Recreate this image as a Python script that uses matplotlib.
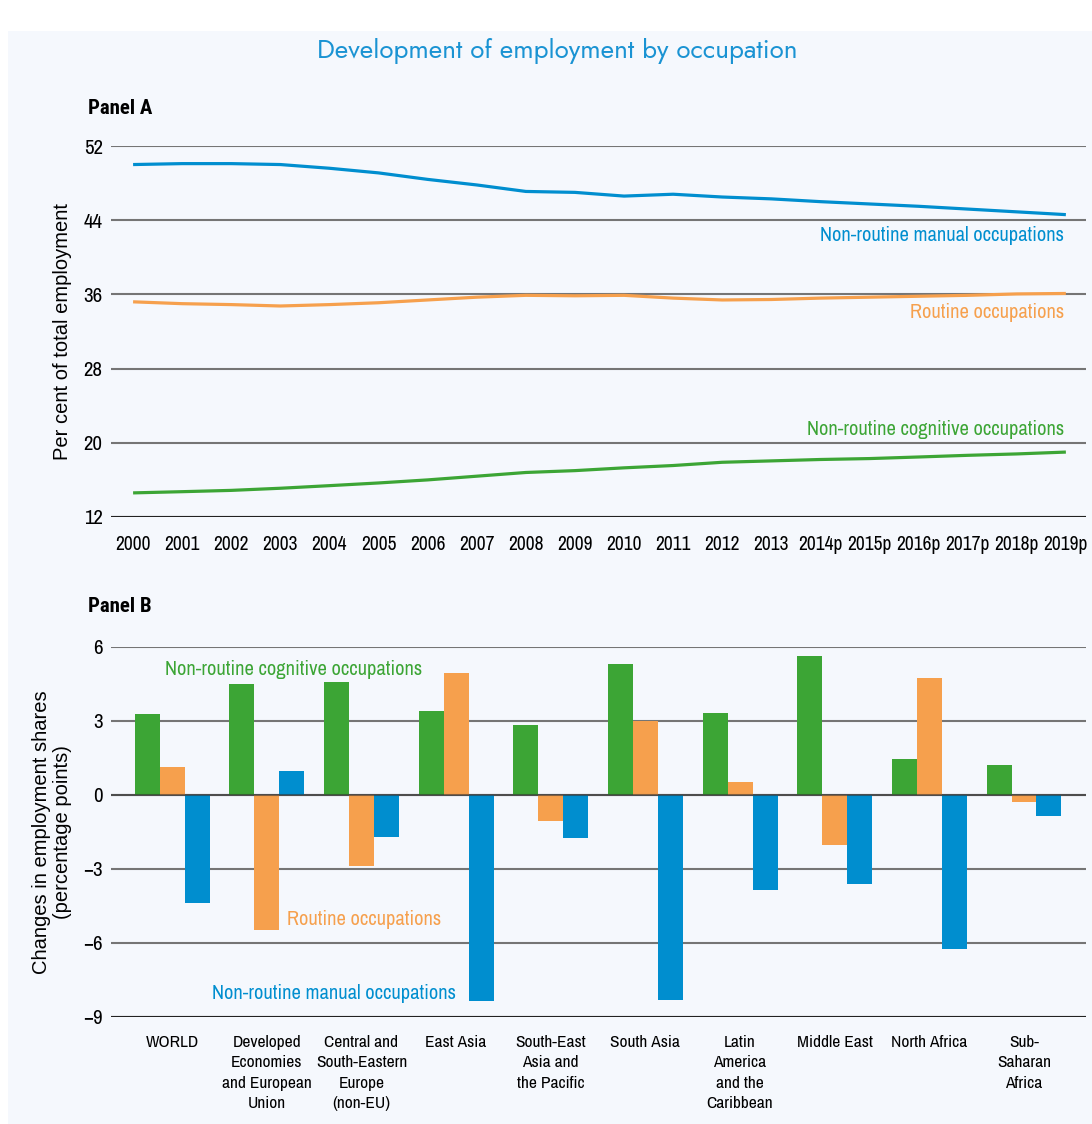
import matplotlib
matplotlib.use("Agg")
import matplotlib.pyplot as plt
import numpy as np
from matplotlib.patches import Rectangle

# ---------------- data ----------------
years = ["2000", "2001", "2002", "2003", "2004", "2005", "2006", "2007", "2008", "2009",
         "2010", "2011", "2012", "2013", "2014p", "2015p", "2016p", "2017p", "2018p", "2019p"]
manual_line = [50.0, 50.1, 50.1, 50.0, 49.6, 49.1, 48.4, 47.8, 47.1, 47.0,
               46.6, 46.8, 46.5, 46.3, 46.0, 45.75, 45.5, 45.2, 44.9, 44.6]
routine_line = [35.2, 35.0, 34.9, 34.75, 34.9, 35.1, 35.4, 35.7, 35.9, 35.85,
                35.9, 35.6, 35.4, 35.45, 35.6, 35.7, 35.8, 35.9, 36.05, 36.1]
cognitive_line = [14.6, 14.73, 14.87, 15.1, 15.38, 15.67, 16.0, 16.4, 16.8, 17.0,
                  17.3, 17.55, 17.9, 18.05, 18.2, 18.3, 18.47, 18.65, 18.8, 19.0]

regions = ["WORLD", "Developed\nEconomies\nand European\nUnion",
           "Central and\nSouth-Eastern\nEurope\n(non-EU)", "East Asia",
           "South-East\nAsia and\nthe Pacific", "South Asia",
           "Latin\nAmerica\nand the\nCaribbean", "Middle East", "North Africa",
           "Sub-\nSaharan\nAfrica"]
cognitive_chg = [3.28, 4.5, 4.58, 3.4, 2.84, 5.31, 3.32, 5.63, 1.46, 1.22]
routine_chg = [1.13, -5.46, -2.87, 4.94, -1.08, 3.0, 0.53, -2.05, 4.74, -0.31]
manual_chg = [-4.37, 0.97, -1.73, -8.34, -1.77, -8.3, -3.84, -3.6, -6.23, -0.88]

yticks_a = [12, 20, 28, 36, 44, 52]
yticks_b = [-9, -6, -3, 0, 3, 6]

# ---------------- style ----------------
GREEN = "#3ca535"
ORANGE = "#f6a04d"
BLUE = "#008ecf"
TITLE_BLUE = "#1a93d3"
BG = "#f5f8fd"
GRID = "#757575"
NARROW = ["Archivo Narrow", "DejaVu Sans"]
NARROW_BOLD = ["Roboto Condensed", "Asap Condensed", "DejaVu Sans"]
REG = ["Liberation Sans", "DejaVu Sans"]
TITLE_FONT = ["Jost", "DejaVu Sans"]

W, H = 1092, 1124
fig = plt.figure(figsize=(W / 100, H / 100), dpi=100)
fig.patch.set_facecolor("white")
fig.add_artist(Rectangle((8 / W, 0), 1 - 8 / W, 1 - 31 / H, transform=fig.transFigure,
                         facecolor=BG, edgecolor="none", zorder=0))

fig.text(557 / W, 1 - 51 / H, "Development of employment by occupation",
         ha="center", va="center", color=TITLE_BLUE, fontsize=18.8,
         family=TITLE_FONT, fontweight="light")
fig.text(88 / W, 1 - 108 / H, "Panel A", ha="left", va="center", fontsize=15,
         fontweight="bold", family=NARROW_BOLD)
fig.text(88 / W, 1 - 607 / H, "Panel B", ha="left", va="center", fontsize=15,
         fontweight="bold", family=NARROW_BOLD)

def style_axes(ax):
    ax.set_facecolor("none")
    for s in ax.spines.values():
        s.set_visible(False)
    ax.tick_params(axis="both", length=0)
    ax.yaxis.grid(True, color=GRID, linewidth=1.5)
    ax.set_axisbelow(True)

# ---------------- Panel A ----------------
L, R = 111 / W, 1086 / W
axA = fig.add_axes([L, 1 - 517 / H, R - L, 371 / H])
style_axes(axA)
x = np.arange(len(years))
axA.plot(x, manual_line, color=BLUE, lw=2.3, solid_capstyle="butt", zorder=3)
axA.plot(x, routine_line, color=ORANGE, lw=2.3, solid_capstyle="butt", zorder=3)
axA.plot(x, cognitive_line, color=GREEN, lw=2.3, solid_capstyle="butt", zorder=3)
axA.set_xlim(-0.45, len(years) - 1 + 0.41)
axA.set_ylim(12, 52)
axA.set_yticks(yticks_a)
axA.set_xticks(x)
axA.set_xticklabels(years)
axA.axhline(12, color="#222222", lw=1.5, zorder=2)
for lab in axA.get_xticklabels():
    lab.set_family(NARROW)
    lab.set_fontsize(14)
for lab in axA.get_yticklabels():
    lab.set_family(NARROW)
    lab.set_fontsize(15)
axA.tick_params(axis="x", pad=13)
axA.tick_params(axis="y", pad=6)
axA.set_ylabel("Per cent of total employment", fontsize=14.5, family=REG, labelpad=8)
axA.text(18.96, 42.3, "Non-routine manual occupations", color=BLUE, ha="right",
         va="center", fontsize=14.7, family=NARROW)
axA.text(18.96, 34.05, "Routine occupations", color=ORANGE, ha="right",
         va="center", fontsize=14.7, family=NARROW)
axA.text(18.96, 21.4, "Non-routine cognitive occupations", color=GREEN, ha="right",
         va="center", fontsize=14.7, family=NARROW)

# ---------------- Panel B ----------------
axB = fig.add_axes([L, 1 - 1017 / H, R - L, 370.5 / H])
style_axes(axB)
xb = np.arange(len(regions))
bw = 0.264
axB.bar(xb - bw, cognitive_chg, bw, color=GREEN, zorder=3)
axB.bar(xb, routine_chg, bw, color=ORANGE, zorder=3)
axB.bar(xb + bw, manual_chg, bw, color=BLUE, zorder=3)
axB.axhline(0, color="#333333", lw=1.5, alpha=0.6, zorder=4)
axB.axhline(-9, color="#222222", lw=1.5, zorder=2)
axB.set_xlim(-0.645, len(regions) - 1 + 0.655)
axB.set_ylim(-9, 6)
axB.set_yticks(yticks_b)
axB.set_xticks(xb)
axB.set_xticklabels(regions, linespacing=1.45)
for lab in axB.get_xticklabels():
    lab.set_family(NARROW)
    lab.set_fontsize(12.5)
    lab.set_verticalalignment("top")
for lab in axB.get_yticklabels():
    lab.set_family(NARROW)
    lab.set_fontsize(15)
axB.tick_params(axis="x", pad=13)
axB.tick_params(axis="y", pad=6)
axB.set_ylabel("Changes in employment shares\n(percentage points)", fontsize=14.5,
               family=REG, labelpad=8, linespacing=1.15)
axB.text(-0.074, 5.07, "Non-routine cognitive occupations", color=GREEN, ha="left",
         va="center", fontsize=14.7, family=NARROW)
axB.text(1.21, -5.07, "Routine occupations", color=ORANGE, ha="left",
         va="center", fontsize=14.7, family=NARROW)
axB.text(0.42, -8.03, "Non-routine manual occupations", color=BLUE, ha="left",
         va="center", fontsize=14.7, family=NARROW)

fig.savefig("out.png", dpi=100, facecolor=fig.get_facecolor())
